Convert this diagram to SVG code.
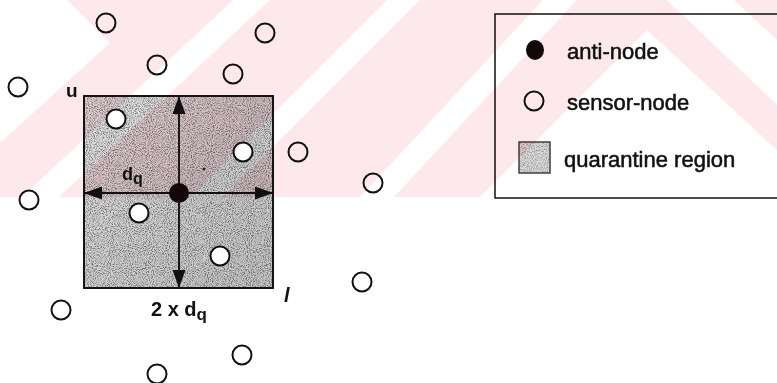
<svg xmlns="http://www.w3.org/2000/svg" width="777" height="383" viewBox="0 0 777 383">
<defs>
<style>
.sn{fill:#fff;stroke:#111;stroke-width:2}
.an{fill:#140709}
.lbl{font-family:"Liberation Sans",Arial,sans-serif;fill:#111}
.b{font-weight:bold}
.leg{font-size:22px;stroke:#111;stroke-width:0.55}
.ax{stroke:#111;stroke-width:1.9;fill:none;marker-start:url(#ah);marker-end:url(#ah)}
.wm{fill:#fde8ec}
.qbox{fill:url(#qg);stroke:#111;stroke-width:1.7}
</style>
<marker id="ah" markerUnits="userSpaceOnUse" markerWidth="20" markerHeight="14" refX="18" refY="6.5" orient="auto-start-reverse" viewBox="0 0 20 14"><path d="M0,0 L18,6.5 L0,13 Z" fill="#111"/></marker>
<linearGradient id="qg" x1="0" y1="0" x2="1" y2="1"><stop offset="0" stop-color="#e0e0e0"/><stop offset="0.5" stop-color="#cdcdcd"/><stop offset="1" stop-color="#c2c2c2"/></linearGradient>
<filter id="grain" x="0" y="0" width="1" height="1">
<feTurbulence type="fractalNoise" baseFrequency="0.95" numOctaves="2" seed="5"/>
<feColorMatrix type="matrix" values="0 0 0 0 0 0 0 0 0 0 0 0 0 0 0 3 0 0 0 -1.3"/>
</filter>
<clipPath id="wmclip"><rect x="0" y="0" width="777" height="197"/></clipPath>
</defs>
<rect x="0" y="0" width="777" height="383" fill="#fff"/>

<g id="quarantine-region">
<rect class="qbox" x="84" y="96" width="189" height="192"/>
<rect x="85" y="97" width="187" height="190" fill="#000" filter="url(#grain)" opacity="0.45"/>
<rect x="84" y="96" width="189" height="192" fill="none" stroke="#111" stroke-width="1.7"/>
<circle cx="204" cy="169" r="1.4" fill="#222"/>
</g>

<g id="connectors">
<line class="ax" x1="179" y1="288" x2="179" y2="96"/>
<line class="ax" x1="84" y1="193" x2="273" y2="193"/>
</g>

<g id="sensor-nodes">
<circle id="sn1" class="sn" cx="106" cy="23" r="9.5"/>
<circle id="sn2" class="sn" cx="265" cy="33" r="9.5"/>
<circle id="sn3" class="sn" cx="157" cy="65" r="9.5"/>
<circle id="sn4" class="sn" cx="233" cy="74" r="9.5"/>
<circle id="sn5" class="sn" cx="18" cy="87" r="9.5"/>
<circle id="sn6" class="sn" cx="116" cy="119" r="9.5"/>
<circle id="sn7" class="sn" cx="243" cy="152" r="9.5"/>
<circle id="sn8" class="sn" cx="298" cy="152" r="9.5"/>
<circle id="sn9" class="sn" cx="373" cy="183" r="9.5"/>
<circle id="sn10" class="sn" cx="29" cy="200" r="9.5"/>
<circle id="sn11" class="sn" cx="139" cy="213" r="9.5"/>
<circle id="sn12" class="sn" cx="220" cy="256" r="9.5"/>
<circle id="sn13" class="sn" cx="362" cy="282" r="9.5"/>
<circle id="sn14" class="sn" cx="61" cy="310" r="9.5"/>
<circle id="sn15" class="sn" cx="242" cy="355" r="9.5"/>
<circle id="sn16" class="sn" cx="157" cy="374" r="9.5"/>
</g>

<g id="anti-node">
<circle class="an" cx="179" cy="193" r="10"/>
</g>

<g id="labels" class="lbl b">
<text x="66" y="97" font-size="19">u</text>
<text x="122" y="180" font-size="18">d<tspan font-size="16" dy="4">q</tspan></text>
<text x="151" y="316" font-size="20">2 x d<tspan font-size="17" dy="4">q</tspan></text>
<text x="284" y="302" font-size="20" font-style="italic">l</text>
</g>

<g id="legend">
<rect x="495" y="14" width="300" height="184" fill="none" stroke="#111" stroke-width="1.5"/>
<ellipse class="an" cx="535" cy="50" rx="9" ry="10"/>
<text class="lbl leg" x="567" y="59">anti-node</text>
<circle class="sn" cx="534" cy="101" r="9.5"/>
<text class="lbl leg" x="567" y="110">sensor-node</text>
<rect x="519" y="142" width="31" height="31" fill="#d8d8d8" stroke="#222" stroke-width="1.3"/>
<rect x="520" y="143" width="29" height="29" fill="#000" filter="url(#grain)" opacity="0.3"/>
<text class="lbl leg" x="564" y="167">quarantine region</text>
</g>

<g id="watermark" clip-path="url(#wmclip)" style="mix-blend-mode:multiply">
<polygon class="wm" points="67,0 233,0 22,197 0,197 0,143 110,43"/>
<polygon class="wm" points="270,0 387,0 190,197 59,197"/>
<polygon class="wm" points="420,0 543,0 360,197 223,197"/>
<polygon class="wm" points="577,0 667,0 777,105 777,150 647,30 480,197 394,197"/>
<polygon class="wm" points="734,0 777,0 777,40"/>
</g>
</svg>
